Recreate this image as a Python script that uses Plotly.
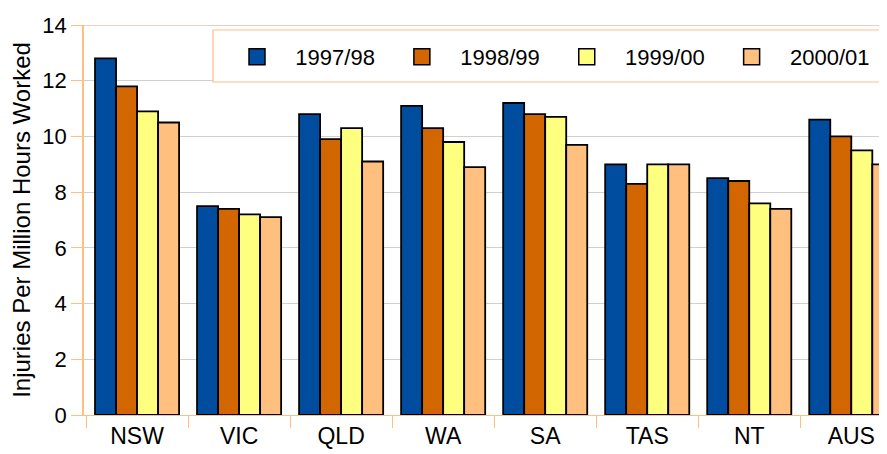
import plotly.graph_objects as go

categories = ["NSW", "VIC", "QLD", "WA", "SA", "TAS", "NT", "AUS"]
series_names = ["1997/98", "1998/99", "1999/00", "2000/01"]
v_1997 = [12.8, 7.5, 10.8, 11.1, 11.2, 9.0, 8.5, 10.6]
v_1998 = [11.8, 7.4, 9.9, 10.3, 10.8, 8.3, 8.4, 10.0]
v_1999 = [10.9, 7.2, 10.3, 9.8, 10.7, 9.0, 7.6, 9.5]
v_2000 = [10.5, 7.1, 9.1, 8.9, 9.7, 9.0, 7.4, 9.0]
y_ticks = [0, 2, 4, 6, 8, 10, 12, 14]

values = [v_1997, v_1998, v_1999, v_2000]
colors = ["#004C9E", "#D26600", "#FFFF7F", "#FFBF7F"]

NB = "\u00a0"
fig = go.Figure()
for i, (name, vals, col) in enumerate(zip(series_names, values, colors)):
    fig.add_trace(go.Bar(
        x=categories, y=vals, name=name,
        marker=dict(color=col, line=dict(color="black", width=1.8)),
        showlegend=False,
    ))
    trail = NB * 3 + "\u2006" if i < len(series_names) - 1 else ""
    fig.add_trace(go.Scatter(
        x=[None], y=[None], mode="markers", name=NB * 3 + name + trail,
        marker=dict(symbol="square", size=22, color=col,
                    line=dict(color="black", width=1.5)),
        showlegend=True,
    ))

# page has an 8px body margin; compensate so the plot area lands where intended
OFF = 8
W, H = 887 - OFF, 454 - OFF
PLOT_LEFT, PLOT_TOP, PLOT_BOTTOM = 84, 25, 415
L, R, T, B = PLOT_LEFT - OFF, 0, PLOT_TOP - OFF, 454 - PLOT_BOTTOM
PW = W - L - R
PH = H - T - B

def px_x(p):
    return (p - PLOT_LEFT) / PW

def px_y(p):
    return (PLOT_BOTTOM - p) / PH

fig.update_layout(
    width=W, height=H,
    margin=dict(l=L, r=R, t=T, b=B),
    paper_bgcolor="white", plot_bgcolor="white",
    font=dict(family="Liberation Sans, Arial, sans-serif", size=22, color="black"),
    barmode="group", bargap=0.176, bargroupgap=0,
    legend=dict(
        orientation="h",
        x=px_x(237), y=px_y(36),
        xanchor="left", yanchor="top",
        borderwidth=0, bgcolor="rgba(0,0,0,0)",
        font=dict(size=22),
        itemsizing="trace",
    ),
    showlegend=True,
    shapes=[
        dict(type="line", xref="paper", yref="y", x0=0, x1=1, y0=14, y1=14,
             line=dict(color="#E3D2C0", width=2), layer="above"),
        dict(type="rect", xref="paper", yref="paper",
             x0=px_x(213), x1=px_x(900), y0=px_y(82), y1=px_y(30),
             fillcolor="white", line=dict(color="#FFBF80", width=1.2), layer="above"),
    ],
)

fig.update_xaxes(
    range=[-0.52, 7.35],
    showline=True, linecolor="#FFBF80", linewidth=1,
    ticks="outside", tickson="boundaries", ticklen=12, tickcolor="#FFBF80",
    showgrid=False, tickfont=dict(size=23),
)
fig.update_yaxes(
    range=[0, 14], tickvals=y_ticks,
    showline=True, linecolor="#FFBF80", linewidth=1.5,
    ticks="outside", ticklen=11, tickcolor="#FFBF80",
    showgrid=True, gridcolor="#D0D0D0", gridwidth=1,
    zeroline=False,
    title=dict(text="Injuries Per Million Hours Worked", font=dict(size=24), standoff=8),
    tickfont=dict(size=22),
)

fig.write_html("out.html")
